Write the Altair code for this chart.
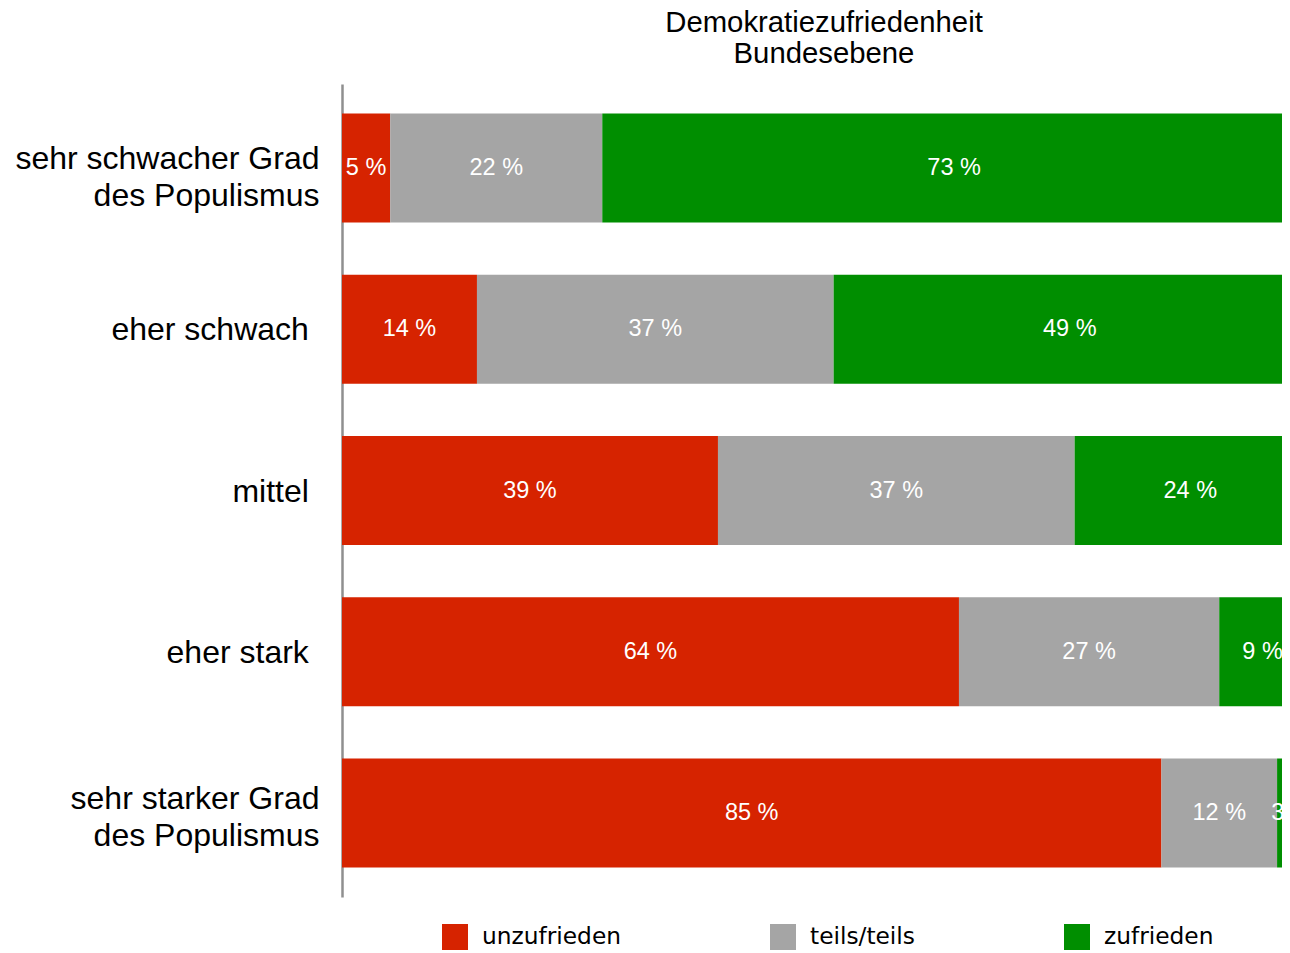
import altair as alt
import pandas as pd

# --- data ---
categories = [
    "sehr schwacher Grad\ndes Populismus",
    "eher schwach",
    "mittel",
    "eher stark",
    "sehr starker Grad\ndes Populismus",
]
responses = ["unzufrieden", "teils/teils", "zufrieden"]
unzufrieden = [5, 14, 39, 64, 85]
teils_teils = [22, 37, 37, 27, 12]
zufrieden = [73, 49, 24, 9, 3]
colors = ["#d62300", "#a5a5a5", "#008e00"]
title_lines = ["Demokratiezufriedenheit", "Bundesebene"]

series = [unzufrieden, teils_teils, zufrieden]
rows = []
for i, cat in enumerate(categories):
    for j, resp in enumerate(responses):
        rows.append({"Grad": cat, "Antwort": resp, "ord": j, "Wert": series[j][i]})
df = pd.DataFrame(rows)

base = alt.Chart(df).transform_stack(
    stack="Wert", as_=["x0", "x1"], groupby=["Grad"], sort=[alt.SortField("ord")]
).transform_calculate(
    xm="(datum.x0 + datum.x1) / 2", label="datum.Wert + ' %'"
)

xscale = alt.Scale(domain=[0, 97.51], nice=False, zero=False)
yscale = alt.Scale(domain=categories, paddingInner=0.324, paddingOuter=0.183)

yaxis = alt.Axis(
    title=None,
    labelExpr="indexof(datum.value, '\\n') >= 0 ? split(datum.value, '\\n') : datum.value + '\u2004\u200b'",
    labelFontSize=32,
    labelFont="Liberation Sans",
    labelColor="black",
    labelPadding=23,
    labelOffset={
        "condition": [
            {"test": "indexof(datum.value, 'schwacher') >= 0", "value": -9},
            {"test": "indexof(datum.value, 'starker') >= 0", "value": -14},
        ],
        "value": 1,
    },
    ticks=False,
    tickSize=0,
    domain=True,
    domainColor="#8f8f8f",
    domainWidth=2.5,
    labelLimit=0,
    labelBaseline="middle",
    labelLineHeight=37,
    labelAlign="right",
    grid=False,
)

bars = base.mark_bar(clip=True).encode(
    y=alt.Y("Grad:N", scale=yscale, sort=categories, axis=yaxis),
    x=alt.X("x0:Q", scale=xscale, axis=None),
    x2="x1:Q",
    color=alt.Color(
        "Antwort:N",
        scale=alt.Scale(domain=responses, range=colors),
        legend=alt.Legend(
            orient="none",
            legendX=100,
            legendY=840,
            direction="horizontal",
            columns=3,
            title=None,
            symbolType="square",
            symbolSize=676,
            symbolStrokeWidth=0,
            symbolOpacity=1,
            labelFontSize=23.3,
            labelFont="DejaVu Sans",
            labelColor="black",
            labelOffset=14,
            columnPadding=149,
            padding=0,
            labelLimit=0,
        ),
    ),
)

text = base.mark_text(
    clip=True, color="white", fontSize=23.5, font="Liberation Sans", baseline="middle"
).encode(
    y=alt.Y("Grad:N", scale=yscale, sort=categories),
    x=alt.X("xm:Q", scale=xscale),
    text="label:N",
)

chart = alt.layer(bars, text).properties(
    width=940,
    height=813,
    padding={"left": 334, "top": 76, "right": 0, "bottom": 56},
    autosize=alt.AutoSizeParams(type="none"),
    title=alt.Title(
        title_lines,
        fontSize=29.3,
        font="Liberation Sans",
        fontWeight="normal",
        color="black",
        anchor="middle",
        dx=12,
        offset=15,
        lineHeight=31,
    ),
).configure_view(stroke=None)

chart.save("out.html", embed_options={"renderer": "svg", "actions": False})
